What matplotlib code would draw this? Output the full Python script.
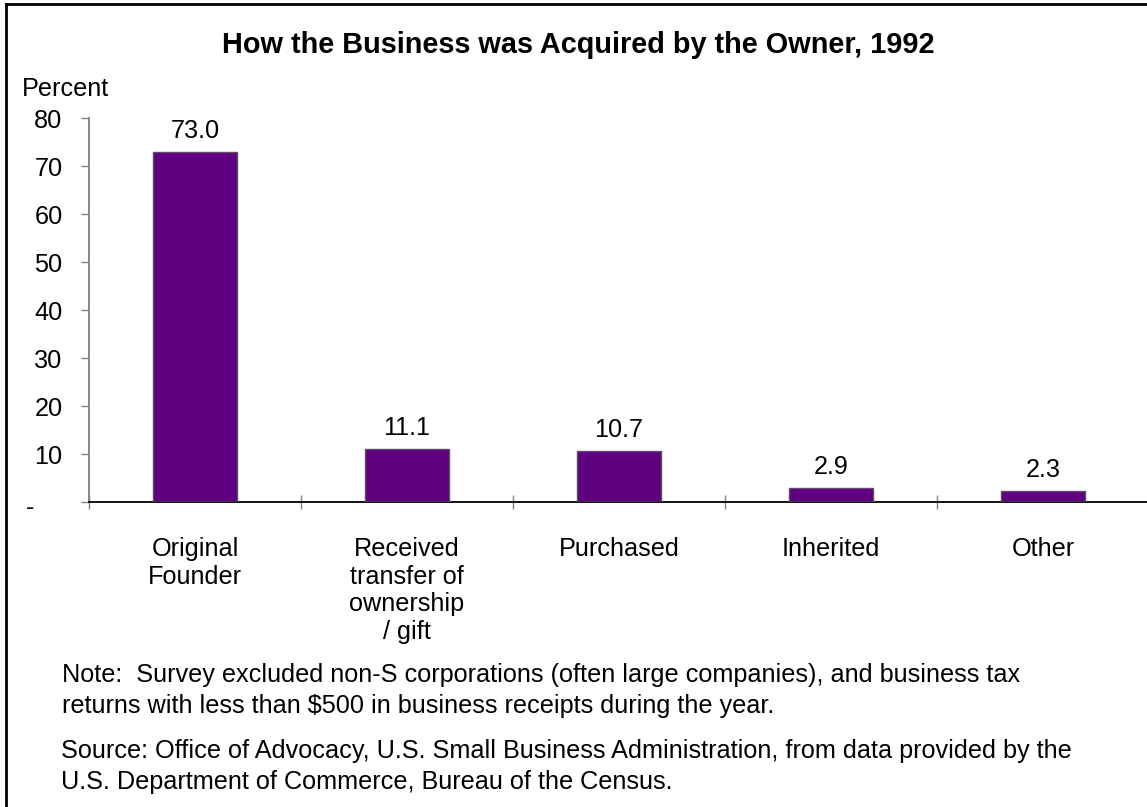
import matplotlib
matplotlib.use("Agg")
import matplotlib.pyplot as plt
from matplotlib.lines import Line2D
from matplotlib.transforms import blended_transform_factory
import numpy as np

categories = ["Original\nFounder", "Received\ntransfer of\nownership\n/ gift",
              "Purchased", "Inherited", "Other"]
values = [73.0, 11.1, 10.7, 2.9, 2.3]
ytick_values = [0, 10, 20, 30, 40, 50, 60, 70, 80]
ytick_labels = ["", "10", "20", "30", "40", "50", "60", "70", "80"]
zero_label = "-"

title = "How the Business was Acquired by the Owner, 1992"
note = ("Note:  Survey excluded non-S corporations (often large companies), and business tax\n"
        "returns with less than $500 in business receipts during the year.")
source = ("Source: Office of Advocacy, U.S. Small Business Administration, from data provided by the\n"
          "U.S. Department of Commerce, Bureau of the Census.")

plt.rcParams['font.family'] = ['Liberation Sans', 'DejaVu Sans']
FS = 18.2

W, H = 1147, 807
fig = plt.figure(figsize=(W / 100, H / 100), dpi=100)
fig.patch.set_facecolor('white')

def fx(px):
    return px / W

def fy(py):
    return 1 - py / H

ax = fig.add_axes([fx(89), fy(502), fx(1149) - fx(89), fy(118) - fy(502)])
ax.set_facecolor('none')

x = np.arange(len(values))
bars = ax.bar(x, values, width=0.4, color='#5F0080', edgecolor='#555555', linewidth=1.0, zorder=3)
for xi, v in zip(x, values):
    ax.annotate(f"{v:.1f}", (xi, v), xytext=(0, 10), textcoords='offset points',
                ha='center', va='baseline', fontsize=FS)

ax.set_xlim(-0.5, len(values) - 0.5)
ax.set_ylim(0, 80)

for s in ['top', 'right']:
    ax.spines[s].set_visible(False)
ax.spines['left'].set_color('#808080')
ax.spines['left'].set_linewidth(1.3)
ax.spines['bottom'].set_color('black')
ax.spines['bottom'].set_linewidth(1.3)

ax.set_yticks(ytick_values)
ax.set_yticklabels(ytick_labels, fontsize=FS)
ax.tick_params(axis='y', direction='out', length=6, width=1.0, color='#808080', pad=13)

ax.set_xticks(x)
ax.set_xticklabels(categories, fontsize=FS, linespacing=1.18, va='top')
ax.tick_params(axis='x', which='major', length=0, pad=25.5)
ax.set_xticks(np.arange(-0.5, len(values), 1.0), minor=True)
ax.tick_params(axis='x', which='minor', direction='inout', length=10, width=1.0, color='#808080')

trans = blended_transform_factory(fig.transFigure, ax.transData)
ax.text(fx(30), -1.3, zero_label, transform=trans, ha='center', va='center', fontsize=FS)

fig.text(fx(578), fy(53), title, ha='center', va='baseline', fontsize=20.8, fontweight='bold')
fig.text(fx(22), fy(96), "Percent", ha='left', va='baseline', fontsize=FS)
fig.text(fx(62), fy(713), note, ha='left', va='baseline', fontsize=FS, linespacing=1.36)
fig.text(fx(61), fy(789), source, ha='left', va='baseline', fontsize=FS, linespacing=1.38)

# frame
fig.add_artist(Line2D([fx(6), fx(6)], [fy(4), -0.1], transform=fig.transFigure, color='black', linewidth=2))
fig.add_artist(Line2D([fx(6), 1.1], [fy(4), fy(4)], transform=fig.transFigure, color='black', linewidth=2))

fig.savefig("out.png", dpi=100, facecolor='white')
